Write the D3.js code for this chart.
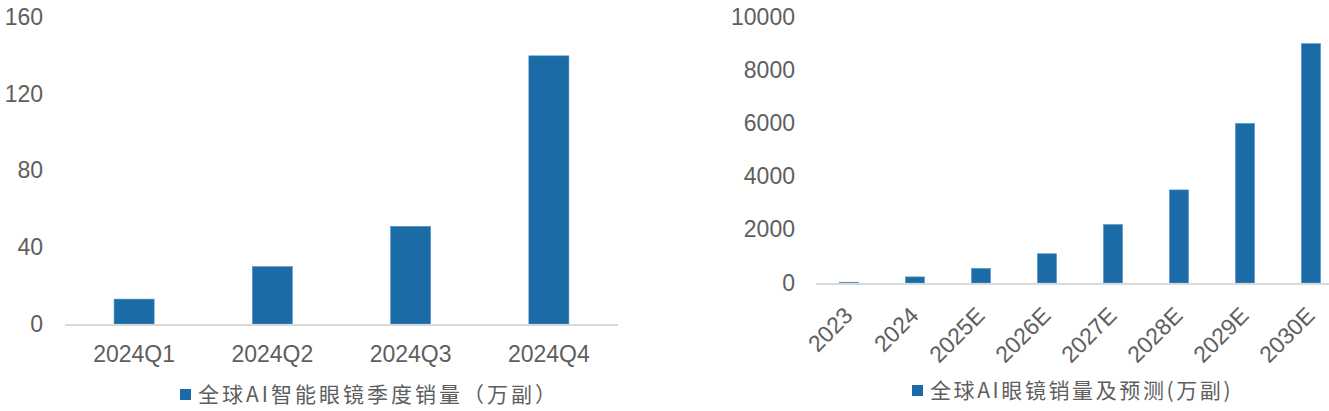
<!DOCTYPE html>
<html>
<head>
<meta charset="utf-8">
<script src="https://cdn.jsdelivr.net/npm/d3@7"></script>
<style>
  body { margin: 0; background: #fff; }
  svg text { font-family: "Liberation Sans", Arial, sans-serif; fill: #5e5e5e; }
  svg text.legend { font-family: "Noto Sans CJK SC", sans-serif; }
</style>
</head>
<body>
<svg id="chart" width="1329" height="411"></svg>
<script>
// left chart: quarterly sales
var quarters = ["2024Q1", "2024Q2", "2024Q3", "2024Q4"];
var quarterSales = [13, 30, 51, 140];
var quarterTicks = [0, 40, 80, 120, 160];
var quarterLegend = "全球AI智能眼镜季度销量（万副）";

// right chart: yearly sales and forecast
var years = ["2023", "2024", "2025E", "2026E", "2027E", "2028E", "2029E", "2030E"];
var yearSales = [30, 230, 550, 1100, 2200, 3500, 6000, 9000];
var yearTicks = [0, 2000, 4000, 6000, 8000, 10000];
var yearLegend = "全球AI眼镜销量及预测(万副)";

var BarColor = "#1b6ba7", AxisColor = "#d9d9d9";

var svg = d3.select("#chart");

function drawPanel(opt) {
    var g = svg.append("g");

    var x = d3.scaleBand()
        .domain(opt.cats)
        .range([opt.x0, opt.x1])
        .paddingInner(0.71)
        .paddingOuter(0.355);
    var y = d3.scaleLinear()
        .domain([0, opt.max])
        .range([opt.y0, opt.y1]);

    // y labels (no axis line)
    g.selectAll(".ylab")
        .data(opt.ticks)
        .enter().append("text")
        .attr("x", opt.labelX)
        .attr("y", function(d) { return y(d); })
        .attr("dy", "0.33em")
        .attr("text-anchor", "end")
        .style("font-size", "23px")
        .text(function(d) { return d; });

    // bars
    g.selectAll(".bar")
        .data(opt.vals)
        .enter().append("rect")
        .attr("x", function(d, i) { return x(opt.cats[i]); })
        .attr("y", function(d) { return y(d); })
        .attr("width", x.bandwidth())
        .attr("height", function(d) { return y(0) - y(d); })
        .attr("fill", BarColor)
        .attr("stroke", "#5a97c8")
        .attr("stroke-width", 0.6);

    // baseline
    g.append("line")
        .attr("x1", opt.x0).attr("x2", opt.axisEnd)
        .attr("y1", y(0) + 1).attr("y2", y(0) + 1)
        .attr("stroke", AxisColor)
        .attr("stroke-width", 2);

    // x labels
    g.selectAll(".xlab")
        .data(opt.cats)
        .enter().append("text")
        .style("font-size", "23px")
        .attr("text-anchor", opt.rotate ? "end" : "middle")
        .attr("transform", function(d) {
            var cx = x(d) + x.bandwidth() / 2;
            if (opt.rotate) return "translate(" + (cx + 5) + "," + opt.labelY + ") rotate(-45)";
            return "translate(" + cx + "," + opt.labelY + ")";
        })
        .text(function(d) { return d; });

    // legend
    g.append("rect")
        .attr("x", opt.legX).attr("y", opt.legY - 5)
        .attr("width", 11).attr("height", 11)
        .attr("fill", BarColor);
    g.append("text")
        .attr("class", "legend")
        .attr("x", opt.legX + 18)
        .attr("y", opt.legY)
        .attr("dy", "0.36em")
        .style("font-size", "21px")
        .style("letter-spacing", opt.spacing + "px")
        .text(opt.legend);
}

drawPanel({
    cats: quarters, vals: quarterSales, ticks: quarterTicks, max: 160,
    x0: 65, x1: 618, axisEnd: 618, y0: 324, y1: 17.5,
    labelX: 43, labelY: 362, rotate: false,
    legend: quarterLegend, legX: 180, legY: 394, spacing: 3
});

drawPanel({
    cats: years, vals: yearSales, ticks: yearTicks, max: 10000,
    x0: 816, x1: 1344, axisEnd: 1329, y0: 283, y1: 17,
    labelX: 795, labelY: 317, rotate: true,
    legend: yearLegend, legX: 912, legY: 390, spacing: 2.6
});
</script>
</body>
</html>
